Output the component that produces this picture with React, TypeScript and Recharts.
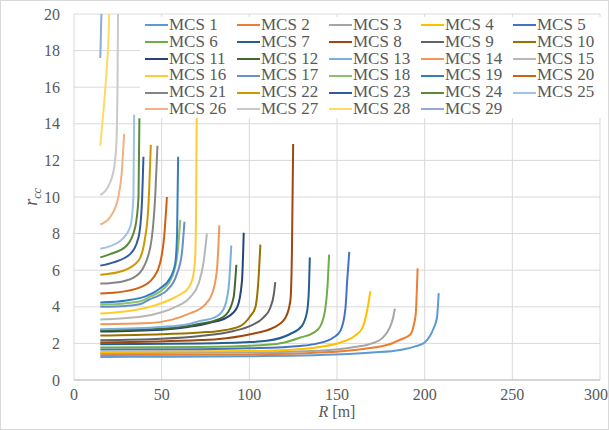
import React from 'react';
import { LineChart, Line, XAxis, YAxis, CartesianGrid, Legend } from 'recharts';

// points: [R (m), r_cc]
const MCS1: [number, number][] = [[15, 1.26], [50, 1.27], [100, 1.3], [140, 1.36], [170, 1.5], [186, 1.64], [195, 1.85], [200, 2.05], [203, 2.4], [205, 2.8], [207, 3.4], [208, 4.75]];
const MCS2: [number, number][] = [[15, 1.37], [100, 1.4], [140, 1.5], [165, 1.7], [180, 1.95], [186, 2.2], [192, 2.5], [194, 3.1], [194.9, 3.6], [195.3, 4.3], [196, 6.1]];
const MCS3: [number, number][] = [[15, 1.46], [100, 1.5], [140, 1.6], [160, 1.8], [170, 2.0], [176, 2.3], [180, 2.85], [182, 3.4], [183, 3.9]];
const MCS4: [number, number][] = [[15, 1.53], [100, 1.58], [130, 1.7], [141, 1.82], [152, 2.05], [160, 2.4], [164.5, 2.85], [167, 3.7], [169, 4.85]];
const MCS5: [number, number][] = [[15, 1.66], [72, 1.68], [100, 1.73], [129, 1.86], [139, 2.0], [148, 2.32], [152, 2.7], [154.8, 3.9], [155.8, 5.4], [157, 7.0]];
const MCS6: [number, number][] = [[15, 1.77], [72, 1.8], [110, 1.92], [120, 2.05], [129, 2.32], [137, 2.6], [140.6, 2.96], [143.4, 3.96], [144.5, 5.0], [145.5, 6.85]];
const MCS7: [number, number][] = [[15, 1.95], [72, 1.99], [100, 2.07], [110, 2.14], [123, 2.5], [130, 2.96], [133, 3.78], [134, 5.0], [134.5, 6.7]];
const MCS8: [number, number][] = [[15, 2.05], [72, 2.18], [81.5, 2.23], [100.6, 2.5], [114, 2.87], [120.6, 3.4], [123.4, 4.33], [124.3, 7.0], [125, 12.9]];
const MCS9: [number, number][] = [[15, 2.17], [50, 2.25], [72, 2.4], [91, 2.68], [100.6, 2.96], [108, 3.41], [112, 3.96], [114, 4.7], [114.8, 5.35]];
const MCS10: [number, number][] = [[15, 2.43], [50, 2.5], [72, 2.6], [83, 2.68], [95, 2.96], [100.6, 3.5], [103.4, 3.96], [105, 5.2], [106.3, 7.4]];
const MCS11: [number, number][] = [[15, 2.65], [50, 2.75], [65, 2.9], [72, 3.0], [78, 3.14], [87, 3.41], [93, 3.96], [95.8, 5.4], [96.8, 8.05]];
const MCS12: [number, number][] = [[15, 2.72], [50, 2.8], [65, 2.95], [72, 3.08], [80, 3.23], [87, 3.6], [91, 4.5], [92.6, 6.3]];
const MCS13: [number, number][] = [[15, 2.78], [50, 2.9], [65, 3.05], [72, 3.23], [80, 3.41], [85.3, 3.87], [88.2, 5.06], [89.7, 7.35]];
const MCS14: [number, number][] = [[15, 3.05], [40, 3.1], [56, 3.3], [65, 3.6], [74, 4.05], [78.7, 4.7], [81.5, 6.0], [82.9, 8.45]];
const MCS15: [number, number][] = [[15, 3.3], [38, 3.45], [50, 3.7], [57, 3.96], [66, 4.5], [71, 5.25], [74, 6.5], [75.8, 8.0]];
const MCS16: [number, number][] = [[15, 3.63], [32, 3.78], [47, 4.1], [55, 4.4], [61, 4.7], [65, 5.0], [67.5, 5.5], [69, 6.5], [69.6, 9.0], [70, 14.35]];
const MCS17: [number, number][] = [[15, 4.0], [30, 4.05], [38, 4.15], [43, 4.4], [48, 4.6], [53, 4.9], [58.7, 5.8], [61.5, 6.9], [63, 8.65]];
const MCS18: [number, number][] = [[15, 4.11], [30, 4.2], [38, 4.3], [43.4, 4.55], [51, 4.97], [55.8, 5.6], [59, 6.9], [60.6, 8.75]];
const MCS19: [number, number][] = [[15, 4.24], [30, 4.35], [41.5, 4.6], [49, 5.0], [55, 5.6], [57.7, 6.35], [58.8, 8.0], [59.4, 12.2]];
const MCS20: [number, number][] = [[15, 4.73], [24, 4.78], [37.7, 5.06], [45.3, 5.6], [49, 6.35], [51.4, 7.8], [53, 10.0]];
const MCS21: [number, number][] = [[15, 5.27], [24, 5.33], [34, 5.6], [40.6, 6.35], [44.4, 7.8], [46.3, 10.0], [47.6, 12.8]];
const MCS22: [number, number][] = [[15, 5.75], [28, 5.97], [36.8, 6.52], [40.6, 7.8], [42.5, 9.6], [43.8, 12.85]];
const MCS23: [number, number][] = [[15, 6.25], [22.5, 6.43], [32, 6.88], [36.8, 7.8], [38.7, 9.6], [39.6, 12.2]];
const MCS24: [number, number][] = [[15, 6.7], [20.6, 6.88], [30, 7.34], [34.9, 8.35], [36.8, 10.0], [37.3, 14.3]];
const MCS25: [number, number][] = [[15, 7.17], [26.3, 7.6], [32, 8.35], [33.9, 10.0], [34.3, 14.5]];
const MCS26: [number, number][] = [[15, 8.5], [20.6, 8.9], [25.3, 10.0], [27.2, 11.3], [28.6, 13.45]];
const MCS27: [number, number][] = [[15, 10.1], [20.6, 10.8], [23, 11.7], [24.2, 13.0], [24.8, 16.0], [25.2, 21.0]];
const MCS28: [number, number][] = [[15, 12.8], [16.8, 14.7], [18.7, 17.1], [19.8, 19.0], [20.3, 21.0]];
const MCS29: [number, number][] = [[15, 17.6], [15.9, 21.0]];

const series = [MCS1, MCS2, MCS3, MCS4, MCS5, MCS6, MCS7, MCS8, MCS9, MCS10, MCS11, MCS12, MCS13, MCS14, MCS15,
  MCS16, MCS17, MCS18, MCS19, MCS20, MCS21, MCS22, MCS23, MCS24, MCS25, MCS26, MCS27, MCS28, MCS29];
const names = series.map((_, i) => `MCS ${i + 1}`);
const colors = ['#5B9BD5', '#ED7D31', '#A5A5A5', '#FFC000', '#4472C4', '#70AD47', '#255E91', '#9E480E', '#636363', '#997300',
  '#264478', '#43682B', '#7CAFDD', '#F1975A', '#B7B7B7', '#FFCD33', '#698ED0', '#8CC168', '#327DC2', '#D26012',
  '#848484', '#CC9A00', '#335AA1', '#5A8A39', '#9DC3E6', '#F4B183', '#C9C9C9', '#FFD966', '#8FAADC'];

const xTicks = [0, 50, 100, 150, 200, 250, 300];
const yTicks = [0, 2, 4, 6, 8, 10, 12, 14, 16, 18, 20];

const FONT = '"Liberation Serif", serif';
const TEXT = '#595959';

const LegendBox = () => (
  <div style={{ background: '#fff', display: 'grid', gridTemplateColumns: 'repeat(5, 92px)', paddingLeft: 5,
    fontFamily: FONT, fontSize: 17, color: TEXT, lineHeight: '16.8px' }}>
    {names.map((n, i) => (
      <div key={n} style={{ display: 'flex', alignItems: 'center', whiteSpace: 'nowrap' }}>
        <span style={{ width: 23, height: 2, background: colors[i], marginRight: 1 }} />
        <span>{n}</span>
      </div>
    ))}
  </div>
);

const YLabel = (props: any) => {
  const vb = props.viewBox || {};
  const cx = 36;
  const cy = vb.y + vb.height / 2;
  return (
    <text x={cx} y={cy} transform={`rotate(-90, ${cx}, ${cy})`} textAnchor="middle" fontFamily={FONT} fill={TEXT} fontSize={18}>
      <tspan fontStyle="italic">r</tspan>
      <tspan fontStyle="italic" fontSize={12} dy={4}>cc</tspan>
    </text>
  );
};

const XLabel = (props: any) => {
  const vb = props.viewBox || {};
  const cx = vb.x + vb.width / 2;
  return (
    <text x={cx} y={416} textAnchor="middle" fontFamily={FONT} fill={TEXT} fontSize={16}>
      <tspan fontStyle="italic">R</tspan>
      <tspan> [m]</tspan>
    </text>
  );
};

export default function App() {
  return (
    <div style={{ position: 'absolute', left: 0, top: 0, width: 607, height: 428, border: '1px solid #d9d9d9', background: '#fff' }}>
      <LineChart width={607} height={428} margin={{ top: 13, right: 8, left: 13, bottom: 19 }}>
        <CartesianGrid stroke="#d9d9d9" strokeWidth={1} />
        <XAxis type="number" dataKey="0" domain={[0, 300]} ticks={xTicks} allowDataOverflow
          stroke="#bfbfbf" tickLine={false} tickSize={0} tickMargin={9} height={30}
          tick={{ fontFamily: FONT, fontSize: 16, fill: TEXT }} label={<XLabel />} />
        <YAxis type="number" dataKey="1" domain={[0, 20]} ticks={yTicks} allowDataOverflow
          axisLine={false} tickLine={false} tickSize={0} tickMargin={14} width={60}
          tick={{ fontFamily: FONT, fontSize: 16, fill: TEXT }} label={<YLabel />} />
        <Legend layout="horizontal" verticalAlign="middle" align="center" content={<LegendBox />}
          wrapperStyle={{ left: 139, top: 16, width: 462, height: 102 }} />
        {series.map((pts, i) => (
          <Line key={names[i]} name={names[i]} data={pts} dataKey="1" type="monotoneX" stroke={colors[i]}
            strokeWidth={2} dot={false} activeDot={false} isAnimationActive={false} />
        ))}
      </LineChart>
    </div>
  );
}
